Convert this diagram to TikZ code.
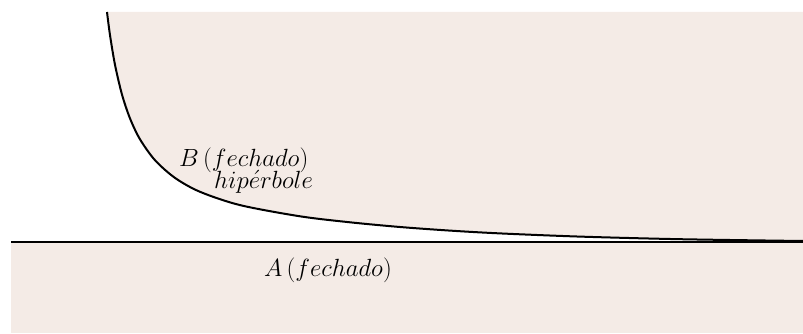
\documentclass[tikz,border=0pt]{standalone}
\definecolor{regfill}{RGB}{244,235,230}
\begin{document}
\begin{tikzpicture}[x=1pt,y=-1pt,
  region/.style={fill=regfill,draw=none},
  curveline/.style={line width=2pt,black},
  lbl/.style={inner sep=0pt,anchor=base west,font=\fontsize{25.5}{30}\selectfont}]
\useasboundingbox (0,0) rectangle (803,334);
\def\hyp{(107,12) (110,35.1) (115,64.8) (122,94.6) (130,118.4) (140,139.3) (155,160.2) (175,177.9) (200,191.8) (240,205.1) (300,216.3) (350,222.3) (400,227) (450,230.6) (500,233.4) (580,236.6) (680,239.2) (803,241)}
% region A
\fill[region] (11,242) rectangle (803,333);
% region B
\fill[region] plot[smooth] coordinates {\hyp} -- (803,12) -- cycle;
% hyperbola
\draw[curveline] plot[smooth] coordinates {\hyp};
% axis line
\coordinate (l0) at (11,242);
\coordinate (l1) at (803,242);
\draw[curveline] (l0) -- (l1);
% labels
\node[lbl] (B) at (179,166) {$B\,(fechado)$};
\node[lbl] (H) at (214,188) {$hip\acute{e}rbole$};
\node[lbl] (A) at (264,276) {$A\,(fechado)$};
\end{tikzpicture}
\end{document}
